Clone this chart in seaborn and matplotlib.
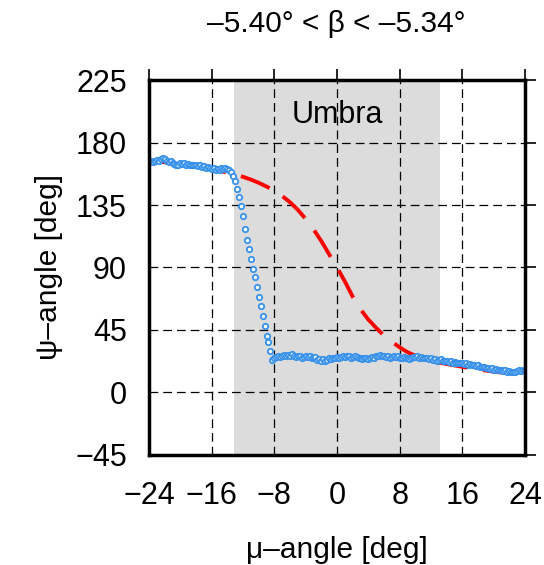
import numpy as np
import matplotlib
matplotlib.use("Agg")
import matplotlib.pyplot as plt
import seaborn as sns

# observed psi-angle, sampled every 0.25 deg in mu from -24 to 24
psi_left = [166.0, 166.5, 166.0, 167.0, 167.5, 166.5, 168.0, 168.5, 168.0, 167.0,
            166.0, 166.5, 165.0, 164.5, 163.5, 164.0, 165.0, 164.5, 165.0, 164.0,
            164.5, 163.5, 164.0, 163.5, 164.0, 163.0, 163.5, 162.5, 163.0, 162.0,
            162.5, 161.5, 161.0, 161.5, 160.5, 161.0, 160.5, 161.5, 161.0, 162.0,
            161.0, 160.0]
psi_drop = [158.5, 156.0, 152.0, 146.5, 140.5, 134.0, 127.0, 118.0, 110.0, 103.0,
            96.0, 89.0, 83.0, 76.0, 69.0, 62.0, 55.0, 48.0, 41.0, 36.0,
            30.0, 23.5]
psi_right = [24.5, 25.5, 26.5, 25.5, 26.0, 27.0, 26.5, 27.0, 26.0, 27.5,
             26.5, 25.5, 26.0, 26.5, 25.0, 25.5, 26.5, 25.5, 26.0, 25.0,
             24.5, 25.5, 23.5, 24.0, 23.0, 24.0, 23.0, 23.5, 24.5, 24.0,
             25.0, 24.5, 25.5, 24.5, 25.5, 26.0, 25.5, 26.5, 26.0, 25.0,
             25.5, 26.5, 25.5, 24.5, 25.0, 24.0, 24.5, 25.0, 24.0, 24.5,
             25.5, 25.0, 26.0, 26.5, 27.0, 26.0, 26.5, 25.5, 26.0, 25.0,
             25.5, 26.0, 25.5, 26.0, 25.0, 24.5, 25.5, 24.5, 25.0, 24.0,
             25.0, 25.5, 25.5, 26.0, 25.0, 25.5, 24.5, 25.0, 24.5, 24.0,
             24.5, 23.5, 24.0, 23.0, 23.5, 24.0, 23.0, 22.5, 22.5, 22.0,
             22.5, 21.5, 22.0, 21.5, 21.0, 21.5, 21.0, 20.5, 21.0, 20.0,
             20.5, 19.5, 20.0, 19.0, 19.5, 18.5, 18.0, 18.5, 17.5, 17.5,
             17.0, 17.5, 16.5, 17.0, 16.0, 16.5, 16.0, 15.5, 16.0, 15.0,
             15.5, 14.5, 15.0, 14.5, 15.5, 16.0, 15.5, 16.5, 16.0]
psi_obs = psi_left + psi_drop + psi_right
mu_obs = np.arange(-24, 24.001, 0.25)

# model curve
mu_model = list(range(-24, 25))
psi_model = [167.0, 166.5, 165.8, 165.0, 164.2, 163.4, 162.5, 161.6, 160.6, 159.5,
             158.3, 157.0, 155.3, 153.3, 151.0, 148.3, 145.5, 141.5, 137.0, 131.5,
             125.0, 117.5, 109.0, 99.5, 90.0, 80.0, 69.0, 60.0, 52.5, 46.5,
             41.0, 36.5, 32.5, 29.0, 26.5, 24.5, 23.0, 21.5, 20.5, 19.5,
             18.5, 17.5, 16.5, 15.8, 15.0, 14.4, 13.8, 13.2, 12.5]

umbra = (-13.1, 13.1)
x_ticks = [-24, -16, -8, 0, 8, 16, 24]
y_ticks = [-45, 0, 45, 90, 135, 180, 225]

sns.set_style("white")
plt.rcParams['font.family'] = ['Liberation Sans', 'DejaVu Sans']
plt.rcParams['axes.unicode_minus'] = True
plt.rcParams['text.color'] = 'black'
plt.rcParams['axes.labelcolor'] = 'black'
plt.rcParams['xtick.color'] = 'black'
plt.rcParams['ytick.color'] = 'black'

fig = plt.figure(figsize=(5.44, 5.65), dpi=100)
ax = fig.add_axes([0.2739, 0.1947, 0.6912, 0.6637])

# umbra shading and grid
ax.axvspan(umbra[0], umbra[1], color='#dcdcdc', lw=0, zorder=1)
ax.set_axisbelow('line')
ax.grid(True, color='black', linestyle=(0, (7, 4)), linewidth=0.9)

# model (red dashed) and observations (blue open circles)
sns.lineplot(x=mu_model, y=psi_model, ax=ax, color='red', linewidth=2.8, zorder=2)
ax.lines[-1].set_linestyle((0, (8, 4)))
sns.scatterplot(x=mu_obs, y=psi_obs, ax=ax, marker='o', s=15, facecolor='white',
                edgecolor='#3791ea', linewidth=1.3, zorder=3)

ax.text(0, 194, 'Umbra', ha='center', va='baseline', fontsize=22)

ax.set_xlim(-24, 24)
ax.set_ylim(-45, 225)
ax.set_xticks(x_ticks)
ax.set_yticks(y_ticks)
ax.tick_params(direction='out', length=8, width=1.2, labelsize=22,
               top=True, right=True, color='black', labelcolor='black')
ax.tick_params(axis='y', pad=8)
ax.tick_params(axis='x', pad=11)
for s in ax.spines.values():
    s.set_linewidth(2.5)
    s.set_color('black')
    s.set_zorder(5)

ax.set_xlabel('\u03bc\u2013angle [deg]', fontsize=21.5, labelpad=18)
ax.set_ylabel('\u03c8\u2013angle [deg]', fontsize=21.5, labelpad=9)
fig.text(0.619, 1 - 24 / 565, '\u20135.40\u00b0 < \u03b2 < \u20135.34\u00b0',
         ha='center', va='center', fontsize=21.5)

fig.savefig('out.png', dpi=100)
